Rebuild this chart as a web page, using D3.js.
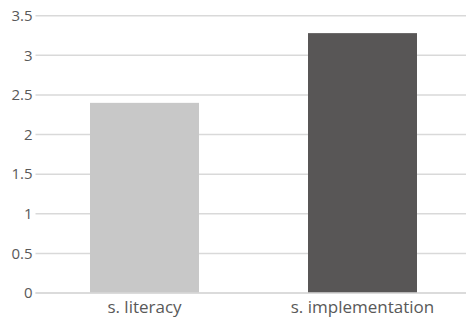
<!DOCTYPE html>
<html>
<head>
<meta charset="utf-8">
<script src="https://cdn.jsdelivr.net/npm/d3@7"></script>
<style>
  html, body { margin: 0; padding: 0; background: #fff; }
  svg text { font-family: "Open Sans", "Liberation Sans", sans-serif; fill: #595959; }
</style>
</head>
<body>
<svg id="chart" width="467" height="322"></svg>
<script>
const categories = ["s. literacy", "s. implementation"];
const values = [2.40, 3.28];
const barColors = ["#c8c8c8", "#585656"];
const yTicks = [0, 0.5, 1, 1.5, 2, 2.5, 3, 3.5];

const svg = d3.select("#chart");
const margin = { left: 35.5, right: -4.5, top: 15.7, bottom: 29 };
const W = 467, H = 322;

const x = d3.scaleBand()
  .domain(categories)
  .range([margin.left, W - margin.right])
  .paddingInner(0.5)
  .paddingOuter(0.25);

const y = d3.scaleLinear()
  .domain([0, 3.5])
  .range([H - margin.bottom, margin.top]);

// horizontal gridlines
svg.append("g")
  .selectAll("line")
  .data(yTicks)
  .join("line")
  .attr("x1", margin.left)
  .attr("x2", 466)
  .attr("y1", d => y(d))
  .attr("y2", d => y(d))
  .attr("stroke", "#d9d9d9")
  .attr("stroke-width", 1.5);

// y axis labels
const yAxis = d3.axisLeft(y).tickValues(yTicks).tickSize(0).tickPadding(3).tickFormat(d3.format("~g"));
svg.append("g")
  .attr("transform", `translate(${margin.left},0)`)
  .call(yAxis)
  .call(g => g.select(".domain").remove())
  .call(g => g.selectAll("text").attr("font-size", 15).attr("fill", "#595959").style("font-family", "'Open Sans', sans-serif"));

// bars
svg.append("g")
  .selectAll("rect")
  .data(values)
  .join("rect")
  .attr("x", (d, i) => x(categories[i]))
  .attr("width", x.bandwidth())
  .attr("y", d => y(d))
  .attr("height", d => y(0) - y(d))
  .attr("fill", (d, i) => barColors[i]);

// baseline
svg.append("line")
  .attr("x1", margin.left).attr("x2", 466)
  .attr("y1", y(0)).attr("y2", y(0))
  .attr("stroke", "#d9d9d9").attr("stroke-width", 1.5);

// x axis labels
const xAxis = d3.axisBottom(x).tickSize(0).tickPadding(8);
svg.append("g")
  .attr("transform", `translate(0,${y(0)})`)
  .call(xAxis)
  .call(g => g.select(".domain").remove())
  .call(g => g.selectAll("text").attr("font-size", 17).attr("fill", "#595959").style("font-family", "'Open Sans', sans-serif"));
</script>
</body>
</html>
